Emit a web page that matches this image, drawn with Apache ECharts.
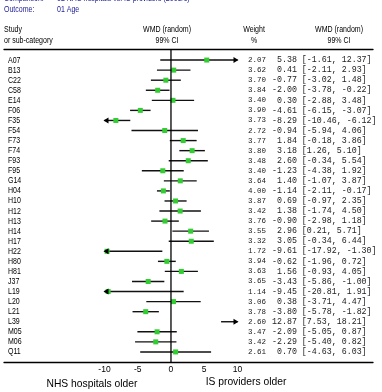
<!DOCTYPE html>
<html>
<head>
<meta charset="utf-8">
<script src="https://cdn.jsdelivr.net/npm/echarts@6/dist/echarts.min.js"></script>
<style>
  html, body { margin: 0; padding: 0; background: #fff; }
  #main { width: 382px; height: 392px; }
</style>
</head>
<body>
<div id="main"></div>
<script>
// study rows, top to bottom
var studies = ['A07', 'B13', 'C22', 'C58', 'E14', 'F06', 'F35', 'F54', 'F73', 'F74',
  'F93', 'F95', 'G14', 'H04', 'H10', 'H12', 'H13', 'H14', 'H17', 'H22',
  'H80', 'H81', 'J37', 'L19', 'L20', 'L21', 'L39', 'M05', 'M06', 'Q11'];
var weights = [2.07, 3.62, 3.70, 3.84, 3.40, 3.90, 3.73, 2.72, 3.77, 3.80,
  3.48, 3.40, 3.64, 4.00, 3.87, 3.42, 3.76, 3.55, 3.32, 1.72,
  3.94, 3.63, 3.65, 1.14, 3.06, 3.78, 2.60, 3.47, 3.42, 2.61];
var wmd = [5.38, 0.41, -0.77, -2.00, 0.30, -4.61, -8.29, -0.94, 1.84, 3.18,
  2.60, -1.23, 1.40, -1.14, 0.69, 1.38, -0.90, 2.96, 3.05, -9.61,
  -0.62, 1.56, -3.43, -9.45, 0.38, -3.80, 12.87, -2.09, -2.29, 0.70];
var ciLow = [-1.61, -2.11, -3.02, -3.78, -2.88, -6.15, -10.46, -5.94, -0.18, 1.26,
  -0.34, -4.38, -1.07, -2.11, -0.97, -1.74, -2.98, 0.21, -0.34, -17.92,
  -1.96, -0.93, -5.86, -20.81, -3.71, -5.78, 7.53, -5.05, -5.40, -4.63];
var ciHigh = [12.37, 2.93, 1.48, -0.22, 3.48, -3.07, -6.12, 4.06, 3.86, 5.10,
  5.54, 1.92, 3.87, -0.17, 2.35, 4.50, 1.18, 5.71, 6.44, -1.30,
  0.72, 4.05, -1.00, 1.91, 4.47, -1.82, 18.21, 0.87, 0.82, 6.03];
var tickValues = [-10, -5, 0, 5, 10];
var plotMin = -10, plotMax = 10;   // CI lines are cut here, with an arrow

var navy = '#1c1c96';
var sans = 'Liberation Sans, Arial, sans-serif';
var mono = 'Liberation Mono, DejaVu Sans Mono, monospace';
var narrow = 0.78; // header font looks condensed

var rows = studies.map(function (s, i) {
  return [i, wmd[i], ciLow[i], ciHigh[i], weights[i]];
});

function txt(x, y, text, opt) {
  opt = opt || {};
  return {
    type: 'text', x: x, y: y, scaleX: opt.scaleX || 1,
    style: {
      text: text,
      font: opt.font || ('9px ' + sans),
      fill: opt.color || '#000',
      align: opt.align || 'left', textAlign: opt.align || 'left',
      verticalAlign: 'middle', textVerticalAlign: 'middle'
    }
  };
}

function fmt(v) { return v.toFixed(2); }

var myChart = echarts.init(document.getElementById('main'));

var option = {
  animation: false,
  grid: { left: 4, right: 9, top: 49, bottom: 30 },
  xAxis: [
    {
      type: 'value', position: 'bottom',
      min: -25.11, max: 30.38,
      axisLine: { onZero: false, lineStyle: { color: '#000', width: 1.3 } },
      axisTick: { show: false },
      splitLine: { show: false },
      axisLabel: {
        customValues: tickValues, color: '#000', fontSize: 8.5,
        fontFamily: sans, margin: 3
      }
    },
    {
      type: 'value', position: 'top',
      min: -25.11, max: 30.38,
      axisLine: { onZero: false, lineStyle: { color: '#000', width: 1.3 } },
      axisTick: { show: false },
      axisLabel: { show: false },
      splitLine: { show: false }
    }
  ],
  yAxis: { type: 'value', inverse: true, min: -1.1, max: 30, show: false },
  graphic: [
    txt(4, -1.5, 'Comparison:', { color: navy, scaleX: narrow }),
    txt(57, -1.5, '02 NHS hospitals vs. IS providers (2003/6)', { color: navy, scaleX: narrow }),
    txt(4, 10, 'Outcome:', { color: navy, scaleX: narrow }),
    txt(57, 10, '01 Age', { color: navy, scaleX: narrow }),
    txt(4, 30, 'Study', { scaleX: narrow }),
    txt(4, 41, 'or sub-category', { scaleX: narrow }),
    txt(167, 30, 'WMD (random)', { align: 'center', scaleX: narrow }),
    txt(167, 41, '99% CI', { align: 'center', scaleX: narrow }),
    txt(254, 30, 'Weight', { align: 'center', scaleX: narrow }),
    txt(254, 41, '%', { align: 'center', scaleX: narrow }),
    txt(339, 30, 'WMD (random)', { align: 'center', scaleX: narrow }),
    txt(339, 41, '99% CI', { align: 'center', scaleX: narrow }),
    txt(92, 384, 'NHS hospitals older', { align: 'center', font: '10.3px ' + sans }),
    txt(246, 382, 'IS providers older', { align: 'center', font: '10.3px ' + sans })
  ],
  series: [
    // line of no effect
    {
      type: 'line',
      data: [[0, -1.1], [0, 30]],
      symbol: 'none', silent: true,
      lineStyle: { color: '#000', width: 1.3 }
    },
    // CI lines, boxes, arrows
    {
      type: 'custom',
      data: rows,
      encode: { x: [1, 2, 3], y: 0 },
      renderItem: function (params, api) {
        var i = api.value(0), m = api.value(1), lo = api.value(2), hi = api.value(3);
        var a = Math.max(lo, plotMin), b = Math.min(hi, plotMax);
        var p1 = api.coord([a, i]), p2 = api.coord([b, i]);
        var y = p1[1];
        var kids = [{
          type: 'line',
          shape: { x1: p1[0], y1: y, x2: p2[0], y2: y },
          style: { stroke: '#111', lineWidth: 1.4 }
        }];
        if (m >= plotMin && m <= plotMax) {
          var c = api.coord([m, i]);
          kids.push({ type: 'rect', shape: { x: c[0] - 2.5, y: y - 2.5, width: 5, height: 5 }, style: { fill: '#33cc33' } });
        }
        if (lo < plotMin) {
          kids.push({ type: 'polygon', shape: { points: [[p1[0] - 1, y], [p1[0] + 4, y - 3], [p1[0] + 4, y + 3]] }, style: { fill: '#000' } });
        }
        if (hi > plotMax) {
          kids.push({ type: 'polygon', shape: { points: [[p2[0] + 1, y], [p2[0] - 4, y - 3], [p2[0] - 4, y + 3]] }, style: { fill: '#000' } });
        }
        return { type: 'group', children: kids };
      }
    },
    // text columns
    {
      type: 'custom',
      data: rows,
      encode: { x: 1, y: 0 },
      renderItem: function (params, api) {
        var i = api.value(0);
        var y = api.coord([0, i])[1];
        var ci = (fmt(wmd[i]).padStart(5, ' ')) + ' [' + fmt(ciLow[i]) + ', ' + fmt(ciHigh[i]) + ']';
        return {
          type: 'group',
          children: [
            txt(8, y, studies[i], { scaleX: narrow }),
            txt(266, y, fmt(weights[i]), { align: 'right', font: '7.5px ' + mono, color: '#222' }),
            txt(272, y, ci, { font: '8.3px ' + mono, color: '#222' })
          ]
        };
      }
    }
  ]
};

myChart.setOption(option);
</script>
</body>
</html>
